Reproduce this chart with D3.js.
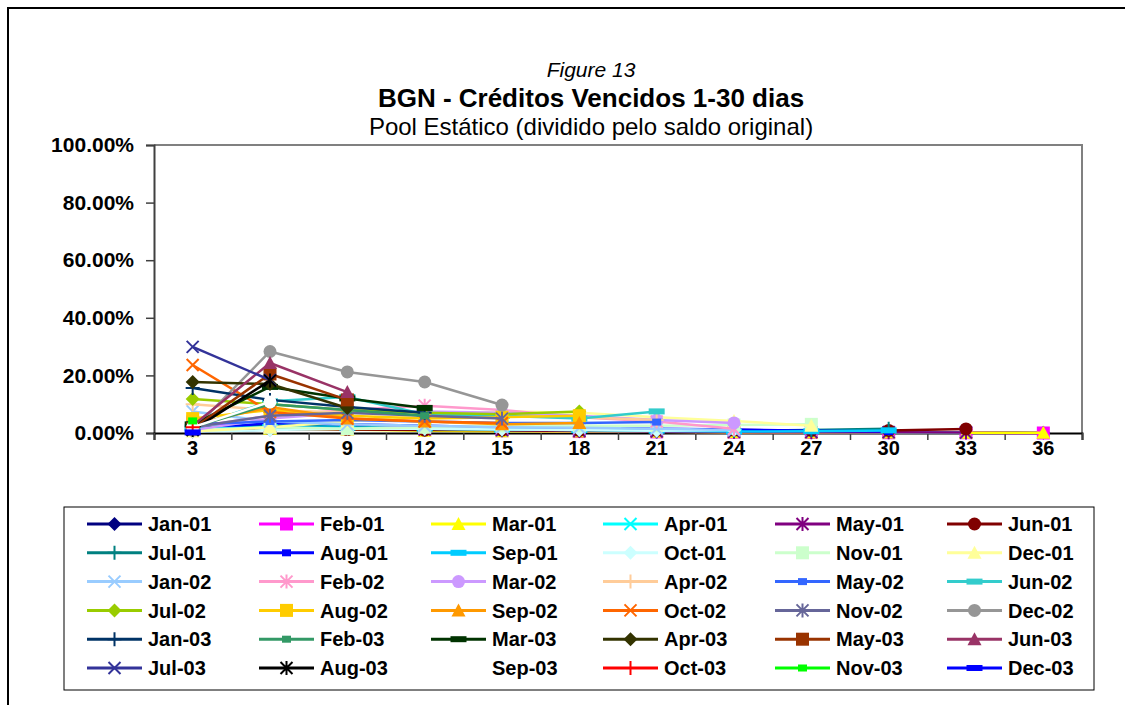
<!DOCTYPE html>
<html>
<head>
<meta charset="utf-8">
<script src="https://cdn.jsdelivr.net/npm/d3@7/dist/d3.min.js"></script>
<style>
  body { margin: 0; background: #fff; }
  text { font-family: "Liberation Sans", Arial, sans-serif; }
</style>
</head>
<body>
<div id="chart"></div>
<script>
const width = 1125;
const height = 705;

// months on book (x categories)
const months = [3, 6, 9, 12, 15, 18, 21, 24, 27, 30, 33, 36];

// cohorts (series names, in legend order)
const cohorts = [
  "Jan-01", "Feb-01", "Mar-01", "Apr-01", "May-01", "Jun-01",
  "Jul-01", "Aug-01", "Sep-01", "Oct-01", "Nov-01", "Dec-01",
  "Jan-02", "Feb-02", "Mar-02", "Apr-02", "May-02", "Jun-02",
  "Jul-02", "Aug-02", "Sep-02", "Oct-02", "Nov-02", "Dec-02",
  "Jan-03", "Feb-03", "Mar-03", "Apr-03", "May-03", "Jun-03",
  "Jul-03", "Aug-03", "Sep-03", "Oct-03", "Nov-03", "Dec-03"
];

// % of original balance 1-30 days past due, one row per cohort
const rates2001 = [
  [0.5, 1.2, 1.5, 1.0, 0.8, 0.6, 0.5, 0.4, 0.3, 0.3, 0.2, 0.1],
  [3.8, 2.0, 1.5, 1.2, 0.8, 0.5, 0.4, 0.3, 0.2, 0.1, 0.1, 0.0],
  [1.0, 1.5, 1.2, 0.8, 0.6, 0.5, 0.4, 0.3, 0.2, 0.2, 0.1, 0.1],
  [2.0, 3.0, 2.0, 1.5, 1.0, 0.8, 0.6, 0.5, 0.4, 0.3, 0.2],
  [1.5, 2.5, 1.8, 1.2, 1.0, 0.7, 0.5, 0.4, 0.3, 0.3, 0.2],
  [0.8, 1.5, 1.2, 1.0, 1.0, 0.9, 0.9, 1.0, 0.9, 0.9, 1.4],
  [2.0, 2.5, 2.0, 1.5, 1.2, 1.0, 0.8, 0.8, 1.0, 1.5],
  [1.0, 3.5, 3.0, 2.5, 2.0, 1.8, 1.5, 1.2, 0.8, 0.5],
  [1.5, 2.0, 1.8, 1.5, 1.2, 1.0, 0.8, 0.5, 0.6, 0.9],
  [0.5, 1.0, 1.5, 1.5, 1.2, 1.0, 0.8, 1.0],
  [1.0, 2.0, 1.5, 2.0, 2.5, 2.5, 2.5, 2.8, 3.0],
  [0.5, 2.0, 4.0, 6.0, 7.5, 7.0, 5.5, 4.2, 2.5]
];

const rates2002 = [
  [7.5, 4.0, 3.0, 2.5, 2.0, 1.8, 1.5, 1.0],
  [2.0, 6.0, 8.0, 9.5, 8.0, 5.5, 4.0, 1.5],
  [1.0, 5.0, 7.0, 7.5, 7.0, 6.0, 4.5, 3.5],
  [10.0, 8.0, 7.0, 6.5, 6.0, 5.5, 4.5],
  [3.0, 4.0, 4.5, 4.0, 3.5, 3.5, 3.8],
  [2.0, 11.0, 12.5, 6.5, 6.0, 5.0, 7.5],
  [11.8, 10.0, 8.0, 7.0, 6.5, 7.5],
  [5.0, 8.0, 6.0, 5.0, 5.5, 6.0],
  [3.0, 9.0, 5.0, 4.0, 3.0, 3.5],
  [23.6, 7.3, 5.0, 4.0, 3.5],
  [2.0, 6.0, 7.0, 6.0, 5.0],
  [1.0, 28.3, 21.2, 17.7, 9.7]
];

const rates2003 = [
  [15.6, 11.5, 9.0, 7.0],
  [2.0, 10.0, 8.0, 6.0],
  [3.0, 16.0, 12.0, 8.7],
  [17.7, 17.0, 8.7],
  [1.5, 20.5, 11.5],
  [2.5, 24.3, 14.2],
  [29.9, 18.4],
  [1.0, 18.2],
  [2.0, 10.8],
  [2.0],
  [4.2],
  [0.2]
];

const yTicks = [0, 20, 40, 60, 80, 100];

// Excel default series colours / markers
const colors = [
  "#000080", "#ff00ff", "#ffff00", "#00ffff", "#800080", "#800000",
  "#008080", "#0000ff", "#00ccff", "#ccffff", "#ccffcc", "#ffff99",
  "#99ccff", "#ff99cc", "#cc99ff", "#ffcc99", "#3366ff", "#33cccc",
  "#99cc00", "#ffcc00", "#ff9900", "#ff6600", "#666699", "#969696",
  "#003366", "#339966", "#003300", "#333300", "#993300", "#993366",
  "#333399", "#000000", "#ffffff", "#ff0000", "#00ff00", "#0000ff"
];
const markerTypes = ["diamond", "square", "triangle", "x", "star", "circle", "plus", "small", "dash"];

const margin = { left: 154, right: 43, top: 145, bottom: 272 };

const svg = d3.select("#chart").append("svg")
  .attr("width", width)
  .attr("height", height);

// outer frame
svg.append("rect")
  .attr("x", 8).attr("y", 8)
  .attr("width", width).attr("height", height)
  .attr("fill", "white")
  .attr("stroke", "black")
  .attr("stroke-width", 2);

// titles
const cx = 591;
svg.append("text")
  .attr("x", cx).attr("y", 77)
  .attr("text-anchor", "middle")
  .style("font-size", "21px")
  .style("font-style", "italic")
  .text("Figure 13");
svg.append("text")
  .attr("x", cx).attr("y", 107)
  .attr("text-anchor", "middle")
  .style("font-size", "26px")
  .style("font-weight", "bold")
  .text("BGN - Créditos Vencidos 1-30 dias");
svg.append("text")
  .attr("x", cx).attr("y", 135)
  .attr("text-anchor", "middle")
  .style("font-size", "24px")
  .text("Pool Estático (dividido pelo saldo original)");

const xScale = d3.scaleBand()
  .domain(months)
  .range([margin.left, width - margin.right]);

const edgeScale = d3.scaleLinear()
  .domain([0, months.length])
  .range([margin.left, width - margin.right]);

const yScale = d3.scaleLinear()
  .domain([0, 100])
  .range([height - margin.bottom, margin.top]);

// plot area border (top / right)
svg.append("path")
  .attr("d", `M${margin.left},${margin.top}H${width - margin.right}V${height - margin.bottom}`)
  .attr("fill", "none")
  .attr("stroke", "#808080")
  .attr("stroke-width", 2);

const yAxis = svg.append("g")
  .attr("transform", `translate(${margin.left},0)`)
  .call(d3.axisLeft(yScale)
    .tickValues(yTicks)
    .tickSize(8)
    .tickPadding(12)
    .tickFormat(d => d.toFixed(2) + "%"));
yAxis.select(".domain").attr("stroke", "#404040").attr("stroke-width", 2);
yAxis.selectAll(".tick line").attr("stroke", "#404040").attr("stroke-width", 1.5);
yAxis.selectAll(".tick text")
  .style("font-size", "21px")
  .style("font-weight", "bold")
  .style("font-family", "'Liberation Sans', Arial, sans-serif")
  .attr("fill", "black");

// x axis: tick marks at category edges, labels centred
const xTickAxis = svg.append("g")
  .attr("transform", `translate(0,${height - margin.bottom})`)
  .call(d3.axisBottom(edgeScale)
    .tickValues(d3.range(months.length + 1))
    .tickSize(7)
    .tickFormat(""));
xTickAxis.select(".domain").attr("stroke", "black").attr("stroke-width", 2);
xTickAxis.selectAll(".tick line").attr("stroke", "#404040").attr("stroke-width", 1.5);

const xLabelAxis = svg.append("g")
  .attr("transform", `translate(0,${height - margin.bottom})`)
  .call(d3.axisBottom(xScale).tickSize(0).tickPadding(8));
xLabelAxis.select(".domain").remove();
xLabelAxis.selectAll(".tick text")
  .style("font-size", "20px")
  .style("font-weight", "bold")
  .style("font-family", "'Liberation Sans', Arial, sans-serif")
  .attr("fill", "black");

function addMarker(g, type, color) {
  if (type === "diamond") {
    g.append("path").attr("d", "M0,-7L7,0L0,7L-7,0Z").attr("fill", color);
  } else if (type === "square") {
    g.append("rect").attr("x", -6.5).attr("y", -6.5).attr("width", 13).attr("height", 13).attr("fill", color);
  } else if (type === "triangle") {
    g.append("path").attr("d", "M0,-7L7,6L-7,6Z").attr("fill", color);
  } else if (type === "circle") {
    g.append("circle").attr("r", 6.5).attr("fill", color);
  } else if (type === "x") {
    g.append("path").attr("d", "M-6,-6L6,6M-6,6L6,-6").attr("stroke", color).attr("stroke-width", 2).attr("fill", "none");
  } else if (type === "star") {
    g.append("path").attr("d", "M-6,-6L6,6M-6,6L6,-6M0,-7V7").attr("stroke", color).attr("stroke-width", 2).attr("fill", "none");
  } else if (type === "plus") {
    g.append("path").attr("d", "M-7,0H7M0,-7V7").attr("stroke", color).attr("stroke-width", 2).attr("fill", "none");
  } else if (type === "small") {
    g.append("rect").attr("x", -4.5).attr("y", -3.5).attr("width", 9).attr("height", 7).attr("fill", color);
  } else if (type === "dash") {
    g.append("rect").attr("x", -8).attr("y", -3).attr("width", 16).attr("height", 6).attr("fill", color);
  }
}

const allRates = rates2001.concat(rates2002, rates2003);
const series = cohorts.map((name, i) => ({
  name: name,
  color: colors[i],
  marker: markerTypes[i % markerTypes.length],
  values: allRates[i].map((v, j) => ({ m: months[j], v: v }))
}));

const line = d3.line()
  .x(d => xScale(d.m) + xScale.bandwidth() / 2)
  .y(d => yScale(d.v));

const seriesG = svg.append("g").attr("class", "series")
  .selectAll("g")
  .data(series)
  .join("g");

seriesG.append("path")
  .attr("fill", "none")
  .attr("stroke", d => d.color)
  .attr("stroke-width", 2.5)
  .attr("stroke-linejoin", "round")
  .attr("d", d => line(d.values));

seriesG.each(function(s) {
  d3.select(this).selectAll(".pt")
    .data(s.values)
    .join("g")
      .attr("class", "pt")
      .attr("transform", d => `translate(${xScale(d.m) + xScale.bandwidth() / 2},${yScale(d.v)})`)
      .each(function() { addMarker(d3.select(this), s.marker, s.color); });
});

// legend
const legendBox = { x: 64, y: 507, w: 1030, h: 183 };
const legend = svg.append("g").attr("class", "legend");
legend.append("rect")
  .attr("x", legendBox.x).attr("y", legendBox.y)
  .attr("width", legendBox.w).attr("height", legendBox.h)
  .attr("fill", "white")
  .attr("stroke", "black")
  .attr("stroke-width", 1);

const items = legend.selectAll(".item")
  .data(series)
  .join("g")
    .attr("class", "item")
    .attr("transform", (d, i) => `translate(${87 + (i % 6) * 172},${524 + Math.floor(i / 6) * 28.8})`);

items.append("line")
  .attr("x1", 0).attr("x2", 55)
  .attr("stroke", d => d.color)
  .attr("stroke-width", 3);
items.each(function(d) {
  addMarker(d3.select(this).append("g").attr("transform", "translate(27.5,0)"), d.marker, d.color);
});
items.append("text")
  .attr("x", 61)
  .attr("dy", "0.36em")
  .style("font-size", "20px")
  .style("font-weight", "bold")
  .text(d => d.name);
</script>
</body>
</html>
